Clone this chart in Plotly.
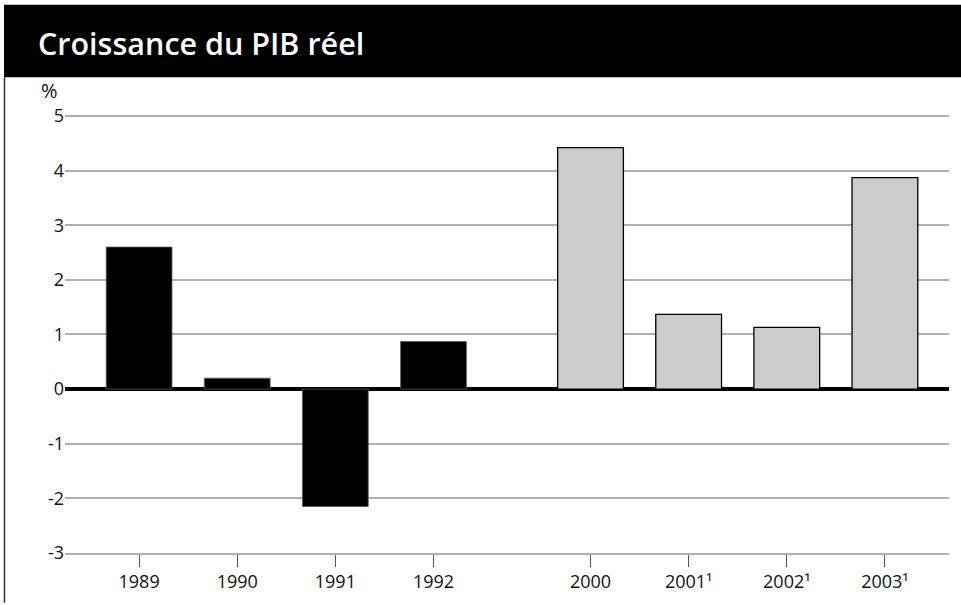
import plotly.graph_objects as go

# ---- data ----
years_hist = ["1989", "1990", "1991", "1992"]
growth_hist = [2.6, 0.2, -2.15, 0.87]
years_proj = ["2000", "2001¹", "2002¹", "2003¹"]
growth_proj = [4.42, 1.37, 1.13, 3.87]
y_tickvals = [-3, -2, -1, 0, 1, 2, 3, 4, 5]
y_ticklabels = ["-3", "-2", "-1", "0", "1", "2", "3", "4", "5"]
title_text = "Croissance du PIB réel"
unit_text = "%"

# ---- layout geometry ----
W, H = 961, 605
L, R, T, B = 65, 12, 114, 49
PX_PER_UNIT = 55.0
GAP = 1.6
FONT = "Open Sans"
TICK_SIZE = 18

x_hist = list(range(len(years_hist)))
x_proj = [x_hist[-1] + GAP + i for i in range(len(years_proj))]

pw = W - L - R
ph = H - T - B
y_top = -3 + ph / PX_PER_UNIT


def px(x):
    return (x - L) / pw


def py(y):
    return (H - B - y) / ph


fig = go.Figure()
fig.add_trace(go.Bar(
    x=x_hist, y=growth_hist, width=0.67,
    marker=dict(color="#000000", line=dict(color="#555555", width=0.8)),
    hoverinfo="y",
))
fig.add_trace(go.Bar(
    x=x_proj, y=growth_proj, width=0.67,
    marker=dict(color="#cccccc", line=dict(color="#000000", width=1.3)),
    hoverinfo="y",
))

fig.update_layout(
    width=W, height=H,
    margin=dict(l=L, r=R, t=T, b=B, pad=0),
    paper_bgcolor="white", plot_bgcolor="white",
    showlegend=False,
    font=dict(family=FONT, size=TICK_SIZE, color="#111111"),
    xaxis=dict(
        type="linear", range=[-0.755, 8.253],
        tickvals=x_hist + x_proj, ticktext=years_hist + years_proj,
        ticks="outside", ticklen=12, tickwidth=1, tickcolor="#555555",
        showgrid=False, zeroline=False,
        showline=True, linecolor="#b0b0b0", linewidth=1.5,
        tickfont=dict(family=FONT, size=TICK_SIZE, color="#111111"),
        fixedrange=True,
    ),
    yaxis=dict(
        range=[-3, y_top], tickvals=y_tickvals, ticktext=y_ticklabels,
        ticks="", showgrid=True, gridcolor="#b0b0b0", gridwidth=1.5,
        zeroline=True, zerolinecolor="#000000", zerolinewidth=3.5,
        showline=False,
        tickfont=dict(family=FONT, size=TICK_SIZE, color="#111111"),
        fixedrange=True,
    ),
    shapes=[
        dict(type="rect", xref="paper", yref="paper",
             x0=px(4), x1=px(962), y0=py(77), y1=py(4),
             fillcolor="#000000", line=dict(width=0), layer="above"),
        dict(type="line", xref="paper", yref="paper",
             x0=px(4.5), x1=px(4.5), y0=py(77), y1=py(606),
             line=dict(color="#333333", width=1.5)),
    ],
    annotations=[
        dict(text=title_text, xref="paper", yref="paper",
             x=px(36), y=py(43), xanchor="left", yanchor="middle",
             showarrow=False,
             font=dict(family=FONT, size=30.5, color="white", weight=600)),
        dict(text=unit_text, xref="paper", yref="paper",
             x=px(39), y=py(90), xanchor="left", yanchor="middle",
             showarrow=False,
             font=dict(family=FONT, size=20, color="#111111")),
    ],
)

fig.write_html(
    "out.html",
    config={"displayModeBar": False},
    post_script="document.body.style.margin='0';document.body.style.overflow='hidden';",
)
